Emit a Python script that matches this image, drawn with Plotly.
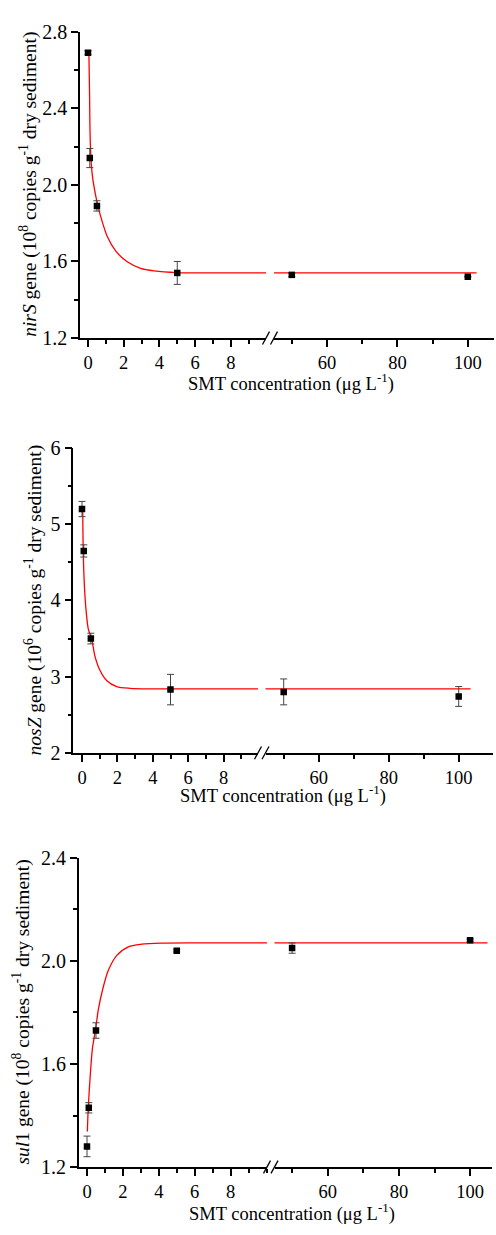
import plotly.graph_objects as go

W, H = 496, 1235

# ---------------- data ----------------
conc = [0, 0.1, 0.5, 5, 50, 100]

nirS = [2.69, 2.14, 1.89, 1.54, 1.53, 1.52]
nirS_err = [0.01, 0.05, 0.027, 0.06, 0.01, 0.0]
nirS_fit_x = [0.05, 0.09, 0.11, 0.15, 0.2, 0.27, 0.34, 0.45, 0.56, 0.80, 1.08, 1.55, 2.2, 2.95, 3.7, 5, 7, 10.1]
nirS_fit_y = [2.69, 2.46, 2.29, 2.17, 2.09, 2.03, 1.99, 1.935, 1.888, 1.807, 1.73, 1.655, 1.598, 1.564, 1.551, 1.542, 1.54, 1.54]
nirS_fit_right_x = [44, 102.5]
nirS_fit_right_y = [1.54, 1.54]

nosZ = [5.2, 4.65, 3.5, 2.83, 2.80, 2.74]
nosZ_err = [0.1, 0.08, 0.07, 0.2, 0.17, 0.13]
nosZ_fit_x = [0.04, 0.07, 0.13, 0.23, 0.36, 0.55, 0.73, 1.02, 1.39, 1.96, 2.71, 4.03, 6, 10.1]
nosZ_fit_y = [5.18, 4.65, 4.22, 3.87, 3.62, 3.49, 3.27, 3.08, 2.95, 2.87, 2.847, 2.84, 2.84, 2.84]
nosZ_fit_right_x = [44, 103.4]
nosZ_fit_right_y = [2.84, 2.84]

sul1 = [1.28, 1.43, 1.73, 2.04, 2.05, 2.08]
sul1_err = [0.04, 0.02, 0.03, 0.005, 0.02, 0.005]
sul1_fit_x = [0.02, 0.07, 0.17, 0.30, 0.48, 0.63, 0.91, 1.19, 1.65, 2.30, 3.05, 4.16, 6, 10.1]
sul1_fit_y = [1.338, 1.43, 1.544, 1.659, 1.735, 1.811, 1.90, 1.964, 2.021, 2.055, 2.065, 2.069, 2.07, 2.07]
sul1_fit_right_x = [44, 104.9]
sul1_fit_right_y = [2.07, 2.07]

left_ticks = [0, 2, 4, 6, 8]
right_ticks = [60, 80, 100]

FONT = "Liberation Serif, Times New Roman, serif"

# panel geometry in pixels
panels = [
    dict(name="nirS", y=nirS, err=nirS_err, fx=nirS_fit_x, fy=nirS_fit_y,
         rx=nirS_fit_right_x, ry=nirS_fit_right_y,
         L=80, LE=266, RS=274, R=494, zero=88, ppu=17.85, r60=327, rppu=3.52,
         top=21, bot=333, yr=[1.2, 2.8], dt=0.4, mdt=0.2, fmt=".1f",
         ytitle="<i>nirS</i> gene (10<sup>8</sup> copies g<sup>-1</sup> dry sediment)",
         ytx=29, xtitle_y=378, xtitle_x=291),
    dict(name="nosZ", y=nosZ, err=nosZ_err, fx=nosZ_fit_x, fy=nosZ_fit_y,
         rx=nosZ_fit_right_x, ry=nosZ_fit_right_y,
         L=73.3, LE=258, RS=265.5, R=493.3, zero=82, ppu=17.7, r60=318.7, rppu=3.5,
         top=445, bot=755.3, yr=[2, 6], dt=1, mdt=0.5, fmt="d",
         ytitle="<i>nosZ</i> gene (10<sup>6</sup> copies g<sup>-1</sup> dry sediment)",
         ytx=33, xtitle_y=798, xtitle_x=283),
    dict(name="sul1", y=sul1, err=sul1_err, fx=sul1_fit_x, fy=sul1_fit_y,
         rx=sul1_fit_right_x, ry=sul1_fit_right_y,
         L=78.7, LE=267, RS=274.5, R=492, zero=87, ppu=17.95, r60=327.7, rppu=3.56,
         top=862.3, bot=1177, yr=[1.2, 2.4], dt=0.4, mdt=0.2, fmt=".1f",
         ytitle="<i>sul</i>1 gene (10<sup>8</sup> copies g<sup>-1</sup> dry sediment)",
         ytx=21, xtitle_y=1223, xtitle_x=292),
]

fig = go.Figure()
layout = {}
shapes = []
annotations = []

def px(x):
    return x / W

def py(y):
    return 1 - y / H

axis_common = dict(showline=True, linecolor="black", linewidth=1.5, ticks="outside",
                   ticklen=7, tickwidth=1.5, tickcolor="black", showgrid=False,
                   zeroline=False, tickfont=dict(family=FONT, size=18.5, color="black"),
                   fixedrange=True)

for i, p in enumerate(panels):
    xl = f"x{2*i+1}" if i > 0 else "x"
    xr = f"x{2*i+2}"
    yy = f"y{i+1}" if i > 0 else "y"
    xl_key = "xaxis" if i == 0 else f"xaxis{2*i+1}"
    xr_key = f"xaxis{2*i+2}"
    y_key = "yaxis" if i == 0 else f"yaxis{i+1}"

    split = 10.0
    lx = [c for c in conc if c <= split]
    ly = [v for c, v in zip(conc, p["y"]) if c <= split]
    le = [e for c, e in zip(conc, p["err"]) if c <= split]
    rxp = [c for c in conc if c > split]
    ryp = [v for c, v in zip(conc, p["y"]) if c > split]
    rep = [e for c, e in zip(conc, p["err"]) if c > split]

    line_style = dict(color="#ff0000", width=1.3)
    fig.add_trace(go.Scatter(x=p["fx"], y=p["fy"], mode="lines", line=dict(shape="spline", smoothing=0.8, **line_style),
                             xaxis=xl, yaxis=yy, showlegend=False, hoverinfo="skip"))
    fig.add_trace(go.Scatter(x=p["rx"], y=p["ry"], mode="lines", line=line_style,
                             xaxis=xr, yaxis=yy, showlegend=False, hoverinfo="skip"))
    eb = dict(color="#444444", thickness=1, width=3.5)
    fig.add_trace(go.Scatter(x=lx, y=ly, mode="markers",
                             marker=dict(symbol="square", size=6.5, color="black"),
                             error_y=dict(type="data", array=le, visible=True, **eb),
                             xaxis=xl, yaxis=yy, showlegend=False))
    fig.add_trace(go.Scatter(x=rxp, y=ryp, mode="markers",
                             marker=dict(symbol="square", size=6.5, color="black"),
                             error_y=dict(type="data", array=rep, visible=True, **eb),
                             xaxis=xr, yaxis=yy, showlegend=False))

    ydom = [py(p["bot"]), py(p["top"])]
    lrange = [(p["L"] - p["zero"]) / p["ppu"], (p["LE"] - p["zero"]) / p["ppu"]]
    rrange = [60 - (p["r60"] - p["RS"]) / p["rppu"], 60 + (p["R"] - p["r60"]) / p["rppu"]]

    layout[xl_key] = dict(axis_common, domain=[px(p["L"]), px(p["LE"])], range=lrange,
                          anchor=yy, tickmode="array", tickvals=left_ticks,
                          minor=dict(dtick=1, tick0=0, ticklen=4, tickwidth=1.5,
                                     tickcolor="black", ticks="outside"))
    layout[xr_key] = dict(axis_common, domain=[px(p["RS"]), px(p["R"])], range=rrange,
                          anchor=yy, tickmode="array", tickvals=right_ticks,
                          minor=dict(dtick=10, tick0=0, ticklen=4, tickwidth=1.5,
                                     tickcolor="black", ticks="outside"))
    ya = dict(axis_common, domain=ydom, range=p["yr"], anchor=xl,
              tickmode="linear", tick0=p["yr"][0], dtick=p["dt"],
              minor=dict(dtick=p["mdt"], tick0=p["yr"][0], ticklen=4, tickwidth=1.5,
                         tickcolor="black", ticks="outside"))
    ya["tickfont"] = dict(family=FONT, size=20, color="black")
    if p["fmt"] != "d":
        ya["tickformat"] = p["fmt"]
    layout[y_key] = ya

    # axis break marks "//"
    for cx in (p["LE"], p["RS"]):
        shapes.append(dict(type="line", xref="paper", yref="paper",
                           x0=px(cx - 3.5), y0=py(p["bot"] + 6.5),
                           x1=px(cx + 3.5), y1=py(p["bot"] - 6.5),
                           line=dict(color="black", width=1.3)))

    annotations.append(dict(text=p["ytitle"], textangle=-90, xref="paper", yref="paper",
                            x=px(p["ytx"]), y=py((p["top"] + p["bot"]) / 2),
                            xanchor="center", yanchor="middle", showarrow=False,
                            font=dict(family=FONT, size=19.5, color="black")))
    annotations.append(dict(text="SMT concentration (μg L<sup>-1</sup>)", xref="paper", yref="paper",
                            x=px(p["xtitle_x"]), y=py(p["xtitle_y"]),
                            xanchor="center", yanchor="middle", showarrow=False,
                            font=dict(family=FONT, size=18.5, color="black")))

fig.update_layout(width=W, height=H, margin=dict(l=0, r=0, t=0, b=0),
                  paper_bgcolor="white", plot_bgcolor="white",
                  shapes=shapes, annotations=annotations, **layout)

fig.write_html("out.html", config={"displayModeBar": False},
               post_script="document.body.style.margin='0';document.body.style.overflow='hidden';")
